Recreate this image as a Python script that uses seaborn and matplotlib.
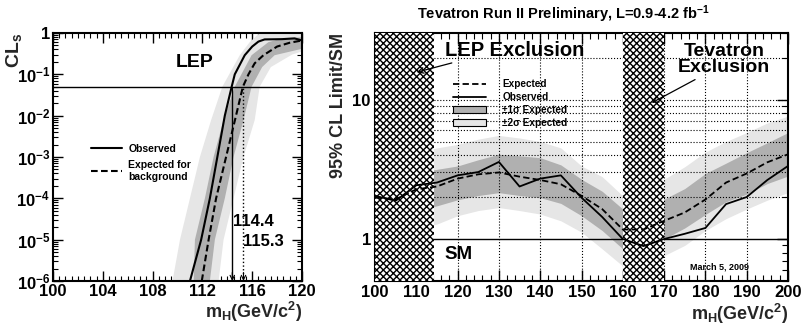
import numpy as np
import pandas as pd
import matplotlib
matplotlib.use("Agg")
import matplotlib.pyplot as plt
import seaborn as sns
from matplotlib.lines import Line2D
from matplotlib.patches import Patch
from matplotlib.ticker import FixedLocator, MultipleLocator, LogLocator, NullFormatter

# ---------------- Left panel: LEP CLs ----------------
lep_obs_mass = [111.0, 111.9, 112.6, 113.2, 113.8, 114.35, 114.6, 115.4, 116.0, 116.5, 117.0, 118.4, 119.4, 120.0]
lep_obs_cls = [1e-6, 1e-5, 1e-4, 1e-3, 1e-2, 0.05, 0.1, 0.29, 0.47, 0.62, 0.70, 0.71, 0.74, 0.66]
lep_exp_mass = [111.95, 112.5, 113.1, 113.9, 114.7, 115.25, 115.7, 116.2, 116.9, 118.0, 119.0, 120.0]
lep_exp_cls = [1e-6, 1e-5, 1e-4, 1e-3, 1e-2, 0.05, 0.1, 0.185, 0.29, 0.47, 0.58, 0.66]

# band edges (left = upper-left edge, right = lower-right edge)
lep_s1_left_mass = [111.3, 111.4, 112.2, 112.9, 113.7, 114.6, 115.95, 117.3, 118.5, 120.5]
lep_s1_left_cls = [1e-6, 1e-5, 1e-4, 1e-3, 7.8e-3, 0.05, 0.29, 0.6, 0.75, 0.8]
lep_s1_right_mass = [112.6, 113.0, 113.8, 114.5, 115.3, 115.95, 116.8, 117.8, 120.5]
lep_s1_right_cls = [1e-6, 1e-5, 1e-4, 1e-3, 7.8e-3, 0.05, 0.15, 0.29, 0.45]
lep_s2_left_mass = [109.6, 110.2, 111.0, 111.8, 112.7, 113.6, 115.0, 115.8, 116.6, 120.5]
lep_s2_left_cls = [1e-6, 1e-5, 1e-4, 1e-3, 7.8e-3, 0.05, 0.29, 0.6, 1.0, 1.0]
lep_s2_right_mass = [113.3, 113.7, 114.5, 115.3, 116.2, 116.6, 117.5, 119.2, 120.5]
lep_s2_right_cls = [1e-6, 1e-5, 1e-4, 1e-3, 7.8e-3, 0.05, 0.15, 0.3, 0.4]

lep_limit_obs = 114.4
lep_limit_exp = 115.3
cls_threshold = 0.05

# ---------------- Right panel: Tevatron ----------------
mass = [100, 105, 110, 115, 120, 125, 130, 135, 140, 145, 150, 155, 160, 165, 170, 175, 180, 185, 190, 195, 200]
observed = [2.04, 1.88, 2.43, 2.54, 2.86, 3.02, 3.57, 2.38, 2.71, 2.86, 1.98, 1.44, 1.0, 0.89, 1.0, 1.09, 1.2, 1.78, 2.0, 2.65, 3.34]
expected = [1.98, 1.93, 2.27, 2.38, 2.71, 2.91, 3.0, 2.8, 2.65, 2.47, 2.04, 1.64, 1.17, 1.17, 1.35, 1.55, 1.92, 2.54, 2.95, 3.55, 4.05]
sig1_lo = [1.4, 1.4, 1.6, 1.73, 1.91, 2.05, 2.15, 2.05, 1.98, 1.80, 1.47, 1.15, 0.85, 0.85, 1.0, 1.2, 1.5, 1.85, 2.1, 2.5, 2.83]
sig1_hi = [2.8, 2.8, 3.0, 3.16, 3.34, 3.7, 4.05, 3.95, 3.83, 3.4, 2.68, 2.2, 1.64, 1.64, 1.93, 2.3, 2.95, 3.5, 4.16, 4.9, 5.8]
sig2_lo = [1.05, 1.05, 1.2, 1.28, 1.47, 1.6, 1.68, 1.6, 1.51, 1.35, 1.12, 0.85, 0.64, 0.64, 0.76, 0.9, 1.15, 1.4, 1.64, 1.9, 2.15]
sig2_hi = [3.8, 3.8, 4.2, 4.5, 4.77, 5.2, 5.53, 5.3, 5.0, 4.5, 3.34, 2.8, 2.04, 2.1, 2.68, 3.3, 4.2, 5.0, 5.8, 6.8, 7.6]
lep_excl = (100, 114.4)
tev_excl = (160, 170)

DARK = "#b0b0b0"
LIGHT = "#e6e6e6"

sns.set_style("ticks")
plt.rcParams.update({
    "font.family": ["Liberation Sans", "DejaVu Sans"],
    "font.weight": "bold",
    "axes.labelweight": "bold",
    "mathtext.fontset": "custom",
    "mathtext.rm": "Liberation Sans:bold",
    "mathtext.bf": "Liberation Sans:bold",
    "mathtext.it": "Liberation Sans:bold:italic",
    "mathtext.sf": "Liberation Sans:bold",
    "mathtext.default": "rm",
    "hatch.linewidth": 1.0,
    "hatch.color": "black",
    "axes.linewidth": 1.5,
    "axes.edgecolor": "black",
    "xtick.direction": "in",
    "ytick.direction": "in",
    "xtick.top": True,
    "ytick.right": True,
    "xtick.color": "black",
    "ytick.color": "black",
    "text.color": "black",
})

fig = plt.figure(figsize=(8.04, 3.25), dpi=100)
axL = fig.add_axes([53 / 804, 44 / 325, 249 / 804, 248 / 325])
axR = fig.add_axes([375 / 804, 44 / 325, 413 / 804, 248 / 325])

# ---------- Left ----------
axL.set_yscale("log")
s2x = list(lep_s2_left_mass) + list(lep_s2_right_mass[::-1])
s2y = list(lep_s2_left_cls) + list(lep_s2_right_cls[::-1])
s1x = list(lep_s1_left_mass) + list(lep_s1_right_mass[::-1])
s1y = list(lep_s1_left_cls) + list(lep_s1_right_cls[::-1])
axL.fill(s2x, s2y, color=LIGHT, lw=0, zorder=1)
axL.fill(s1x, s1y, color=DARK, lw=0, zorder=2)

dfo = pd.DataFrame({"m": lep_obs_mass, "cls": lep_obs_cls})
dfe = pd.DataFrame({"m": lep_exp_mass, "cls": lep_exp_cls})
sns.lineplot(data=dfo, x="m", y="cls", ax=axL, color="black", lw=1.5, estimator=None, sort=False, zorder=5)
sns.lineplot(data=dfe, x="m", y="cls", ax=axL, color="black", lw=1.5, estimator=None, sort=False,
             linestyle=(0, (3.2, 1.6)), zorder=5)

axL.axhline(cls_threshold, color="black", lw=1.0, zorder=4)
axL.vlines(lep_limit_obs, 1e-6, cls_threshold, color="black", lw=1.0, zorder=4)
axL.vlines(lep_limit_exp, 1e-6, cls_threshold, color="black", lw=1.0, linestyles=":", zorder=4)
for xm in (lep_limit_obs, lep_limit_exp):
    axL.annotate("", xy=(xm, 1.0e-6), xytext=(xm, 1.6e-6),
                 arrowprops=dict(arrowstyle="->", lw=0.8, color="black", shrinkA=0, shrinkB=0,
                                 mutation_scale=8), zorder=6)

axL.set_xlim(100, 120)
axL.set_ylim(1e-6, 1)
axL.xaxis.set_major_locator(MultipleLocator(4))
axL.xaxis.set_minor_locator(MultipleLocator(0.5))
yt = [1e-6, 1e-5, 1e-4, 1e-3, 1e-2, 1e-1, 1]
ytl = ["$10^{-6}$", "$10^{-5}$", "$10^{-4}$", "$10^{-3}$", "$10^{-2}$", "$10^{-1}$", "1"]
axL.yaxis.set_major_locator(FixedLocator(yt))
axL.set_yticklabels(ytl)
axL.yaxis.set_minor_locator(LogLocator(base=10, subs=np.arange(2, 10), numticks=20))
axL.yaxis.set_minor_formatter(NullFormatter())
axL.tick_params(which="major", length=7, width=1.0, labelsize=12, pad=2)
axL.tick_params(which="minor", length=3.5, width=0.8)
axL.set_xlabel("m$_H$(GeV/c$^2$)", fontsize=13, loc="right", labelpad=1)
axL.set_ylabel("CL$_s$", fontsize=14, loc="top")
axL.yaxis.set_label_coords(-0.115, 1.0)

axL.text(111.4, 0.19, "LEP", fontsize=14, ha="center", va="center")
axL.text(114.45, 10 ** -4.55, "114.4", fontsize=12, ha="left", va="center")
axL.text(115.3, 10 ** -5.04, "115.3", fontsize=12, ha="left", va="center")

leg = axL.legend(handles=[Line2D([], [], color="black", lw=1.5),
                          Line2D([], [], color="black", lw=1.5, linestyle=(0, (3.2, 1.6)))],
                 labels=["Observed", "Expected for\nbackground"],
                 loc="upper left", bbox_to_anchor=(0.135, 0.57), frameon=False,
                 fontsize=7.5, handlelength=3.0, labelspacing=0.6, borderaxespad=0,
                 handletextpad=0.6)
for t in leg.get_texts():
    t.set_fontweight("bold")

# ---------- Right ----------
axR.set_yscale("log")
axR.fill_between(mass, sig2_lo, sig2_hi, color=LIGHT, lw=0, zorder=1)
axR.fill_between(mass, sig1_lo, sig1_hi, color=DARK, lw=0, zorder=2)
for gx in range(110, 200, 10):
    axR.axvline(gx, color="black", lw=0.8, ls=":", zorder=3)
for gy in [2, 3, 4, 5, 6, 7, 8, 9, 10, 20]:
    axR.axhline(gy, color="black", lw=0.8, ls=":", zorder=3)
axR.axhline(1, color="black", lw=1.0, zorder=3)
for (a, b) in (lep_excl, tev_excl):
    axR.axvspan(a, b, facecolor="white", edgecolor="black", hatch="xxxxx", lw=0, zorder=4)

df = pd.DataFrame({"m": mass, "obs": observed, "exp": expected})
sns.lineplot(data=df, x="m", y="exp", ax=axR, color="black", lw=1.3, estimator=None,
             linestyle=(0, (3.5, 1.8)), zorder=5)
sns.lineplot(data=df, x="m", y="obs", ax=axR, color="black", lw=1.3, estimator=None, zorder=5)

axR.set_xlim(100, 200)
axR.set_ylim(0.5, 30)
axR.xaxis.set_major_locator(MultipleLocator(10))
axR.xaxis.set_minor_locator(MultipleLocator(2))
axR.yaxis.set_major_locator(FixedLocator([1, 10]))
axR.set_yticklabels(["1", "10"])
axR.yaxis.set_minor_locator(LogLocator(base=10, subs=np.arange(2, 10), numticks=20))
axR.yaxis.set_minor_formatter(NullFormatter())
axR.tick_params(which="major", length=8, width=1.0, labelsize=12, pad=3)
axR.tick_params(which="minor", length=4, width=0.8)
axR.set_xlabel("m$_H$(GeV/c$^2$)", fontsize=13, loc="right", labelpad=1)
axR.set_ylabel("95% CL Limit/SM", fontsize=13, loc="top", labelpad=4)

axR.text(133.9, 22.4, "LEP Exclusion", fontsize=14.5, ha="center", va="center")
axR.annotate("", xy=(110.1, 15.7), xytext=(118.6, 18.3),
             arrowprops=dict(arrowstyle="->", lw=0.9, color="black", shrinkA=0, shrinkB=0), zorder=6)
axR.text(184.5, 19.3, "Tevatron\nExclusion", fontsize=14, ha="center", va="center", linespacing=0.9)
axR.annotate("", xy=(167.0, 9.47), xytext=(177.5, 13.9),
             arrowprops=dict(arrowstyle="->", lw=0.9, color="black", shrinkA=0, shrinkB=0), zorder=6)
axR.text(120.3, 0.78, "SM", fontsize=13.5, ha="center", va="center")
axR.text(183.5, 0.626, "March 5, 2009", fontsize=6.5, ha="center", va="center")

legR = axR.legend(handles=[Line2D([], [], color="black", lw=1.3, linestyle=(0, (3.5, 1.8))),
                           Line2D([], [], color="black", lw=1.3),
                           Patch(facecolor=DARK, edgecolor="black", lw=0.8),
                           Patch(facecolor=LIGHT, edgecolor="black", lw=0.8)],
                  labels=["Expected", "Observed", "±1σ Expected", "±2σ Expected"],
                  loc="upper left", bbox_to_anchor=(0.18, 0.83), frameon=False,
                  fontsize=7.2, handlelength=3.3, labelspacing=0.3, borderaxespad=0,
                  handletextpad=1.6)
legR.set_zorder(7)
for t in legR.get_texts():
    t.set_fontweight("bold")

fig.text(563 / 804, 1 - 14 / 325, "Tevatron Run II Preliminary, L=0.9-4.2 fb$^{-1}$",
         ha="center", va="center", fontsize=10.5)

fig.savefig("out.png", dpi=100)
